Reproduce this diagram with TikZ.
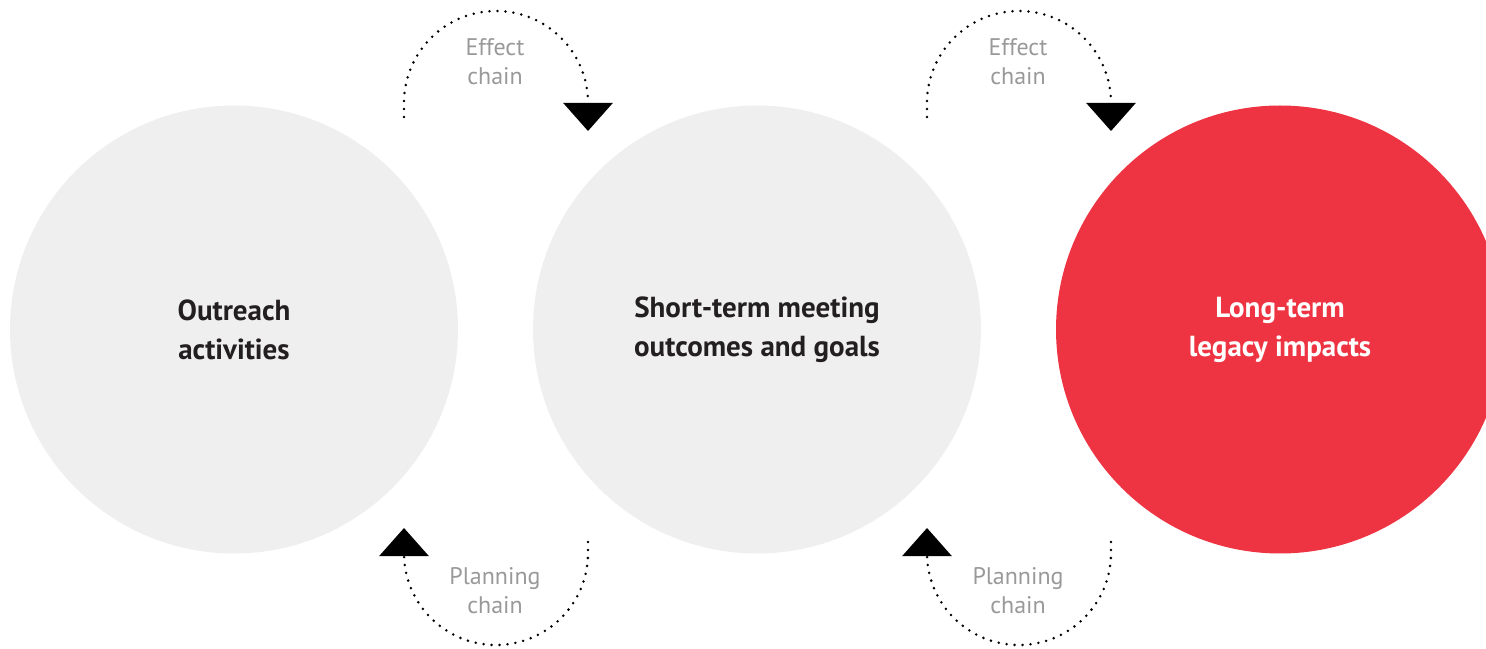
\documentclass[tikz,border=0pt]{standalone}
\usepackage{fontspec}
\setmainfont{PT Sans}
\usetikzlibrary{arrows.meta}
\definecolor{stagegray}{RGB}{238,239,238}
\definecolor{stagered}{RGB}{238,52,67}
\definecolor{chaingray}{RGB}{153,153,153}
\definecolor{textdark}{RGB}{35,31,32}

\begin{document}
\begin{tikzpicture}[x=0.5pt,y=0.5pt,
        stage/.style={circle,minimum size=224pt,inner sep=0pt,align=center,text=textdark,font=\bfseries\fontsize{14.5}{19.5}\selectfont},
        chain/.style={line width=1.4pt,line cap=round,dash pattern=on 0pt off 4pt,-{Triangle[width=24.5pt,length=14pt]}},
        chainlbl/.style={align=center,text=chaingray,font=\fontsize{12}{14.5}\selectfont}]
        \useasboundingbox (0,0) rectangle (1486,648);
        \clip (0,0) rectangle (1486,648);
        \node[stage,fill=stagegray] (outreach) at (234,318.5) {Outreach\\activities};
        \node[stage,fill=stagegray] (shortterm) at (757,318.5) {Short-term meeting\\outcomes and goals};
        \node[stage,fill=stagered,text=white] (longterm) at (1280,318.5) {Long-term\\legacy impacts};
        \coordinate (effA) at (404,531);
        \coordinate (effB) at (927,531);
        \coordinate (planA) at (588,106);
        \coordinate (planB) at (1111,106);
        \draw[chain] (effA) -- ++(0,14) arc[start angle=180,end angle=0,radius=92] -- ++(0,-28);
        \draw[chain] (effB) -- ++(0,14) arc[start angle=180,end angle=0,radius=92] -- ++(0,-28);
        \draw[chain] (planA) -- ++(0,-11) arc[start angle=0,end angle=-180,radius=92] -- ++(0,25);
        \draw[chain] (planB) -- ++(0,-11) arc[start angle=0,end angle=-180,radius=92] -- ++(0,25);
        \node[chainlbl] (effAlbl) at (495,586) {Effect\\chain};
        \node[chainlbl] (effBlbl) at (1018,586) {Effect\\chain};
        \node[chainlbl] (planAlbl) at (495,57) {Planning\\chain};
        \node[chainlbl] (planBlbl) at (1018,57) {Planning\\chain};
    \end{tikzpicture}
\end{document}
